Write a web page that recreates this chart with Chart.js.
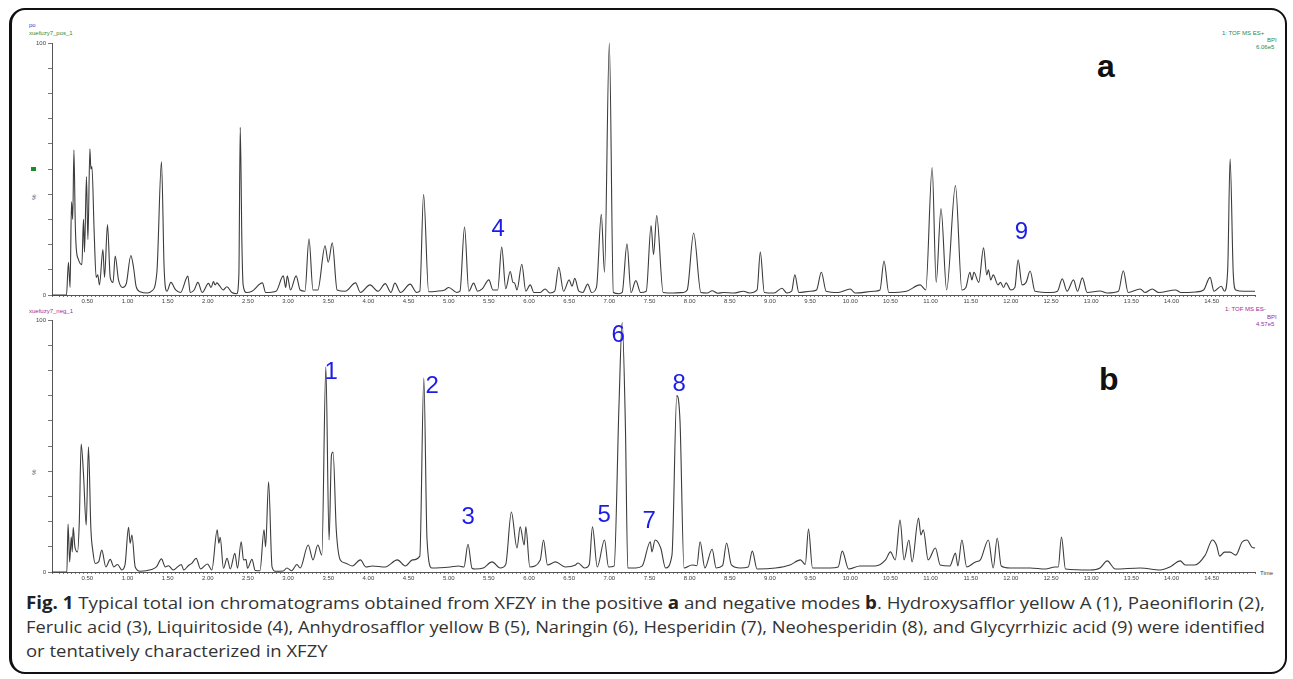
<!DOCTYPE html>
<html>
<head>
<meta charset="utf-8">
<script src="https://cdn.jsdelivr.net/npm/chart.js@4/dist/chart.umd.min.js"></script>
<style>
  body { margin: 0; width: 1293px; height: 679px; background: #fff; position: relative; overflow: hidden; font-family: "Liberation Sans", Arial, sans-serif; }
  .frame { position: absolute; left: 9px; top: 8px; width: 1273px; height: 662px; border: 2px solid #111; border-left-width: 3px; border-radius: 16px; }
  canvas { position: absolute; left: 0; }
  #chartPos { top: 0; }
  #chartNeg { top: 310px; }
  .t { position: absolute; font-size: 6px; line-height: 6px; white-space: nowrap; }
  .green { color: #2e8b3a; }
  .purple { color: #9a2a9a; }
  .letter { position: absolute; font-weight: bold; font-size: 32px; line-height: 32px; color: #111; }
  .caption { position: absolute; left: 26px; font-family: "Open Sans", sans-serif; font-size: 17px; line-height: 24px; color: #333; white-space: nowrap; transform-origin: left center; }
  .caption b { color: #222; }
</style>
</head>
<body>
<div class="frame"></div>

<!-- header texts, panel a -->
<div class="t" style="left:29px;top:22px;color:#3a3ad0">po</div>
<div class="t green" style="left:29px;top:30px">xuefuzy7_pos_1</div>
<div class="t green" style="left:1222px;top:30px">1: TOF MS ES+</div>
<div class="t green" style="left:1267px;top:37px">BPI</div>
<div class="t green" style="left:1256px;top:44px">6.06e5</div>
<div style="position:absolute;left:31px;top:167px;width:5px;height:4px;background:#1a8a2a"></div>
<div class="t" style="left:31px;top:194px;transform:rotate(-90deg);color:#444">%</div>

<!-- header texts, panel b -->
<div class="t purple" style="left:29px;top:308px">xuefuzy7_neg_1</div>
<div class="t purple" style="left:1225px;top:306px">1: TOF MS ES-</div>
<div class="t purple" style="left:1267px;top:314px">BPI</div>
<div class="t purple" style="left:1256px;top:321px">4.57e5</div>
<div class="t" style="left:31px;top:469px;transform:rotate(-90deg);color:#444">%</div>
<div class="t" style="left:1260px;top:570px;color:#444">Time</div>

<div class="letter" style="left:1097px;top:50px">a</div>
<div class="letter" style="left:1099px;top:363px">b</div>

<canvas id="chartPos" width="1293" height="310"></canvas>
<canvas id="chartNeg" width="1293" height="280"></canvas>

<div class="caption" id="cap1" style="top:591px"><b>Fig. 1</b> Typical total ion chromatograms obtained from XFZY in the positive <b>a</b> and negative modes <b>b</b>. Hydroxysafflor yellow A (1), Paeoniflorin (2),</div>
<div class="caption" id="cap2" style="top:615px">Ferulic acid (3), Liquiritoside (4), Anhydrosafflor yellow B (5), Naringin (6), Hesperidin (7), Neohesperidin (8), and Glycyrrhizic acid (9) were identified</div>
<div class="caption" id="cap3" style="top:639px">or tentatively characterized in XFZY</div>

<script>
// Positive mode (a) - retention time (min) and relative intensity (%)
const posTime = [0.06, 0.24, 0.265, 0.285, 0.303, 0.318, 0.333, 0.35, 0.361, 0.39, 0.432, 0.452, 0.465, 0.489, 0.507, 0.532, 0.544, 0.557, 0.585, 0.61, 0.63, 0.651, 0.694, 0.714, 0.751, 0.785, 0.82, 0.847, 0.888, 0.94, 0.984, 1.042, 1.075, 1.108, 1.158, 1.25, 1.30, 1.366, 1.423, 1.457, 1.491, 1.54, 1.6, 1.66, 1.752, 1.781, 1.83, 1.877, 1.93, 2.009, 2.04, 2.071, 2.09, 2.113, 2.15, 2.19, 2.238, 2.3, 2.36, 2.387, 2.404, 2.425, 2.44, 2.48, 2.55, 2.68, 2.72, 2.85, 2.94, 2.97, 2.99, 3.03, 3.10, 3.15, 3.21, 3.26, 3.31, 3.37, 3.46, 3.50, 3.55, 3.61, 3.71, 3.84, 3.90, 4.02, 4.12, 4.21, 4.28, 4.33, 4.40, 4.52, 4.60, 4.64, 4.687, 4.75, 4.85, 4.95, 5.0, 5.1, 5.14, 5.197, 5.25, 5.31, 5.36, 5.42, 5.50, 5.55, 5.61, 5.66, 5.71, 5.766, 5.80, 5.82, 5.85, 5.91, 5.96, 6.015, 6.06, 6.14, 6.20, 6.26, 6.32, 6.37, 6.43, 6.50, 6.535, 6.57, 6.62, 6.67, 6.73, 6.78, 6.84, 6.90, 6.94, 7.0, 7.05, 7.12, 7.16, 7.22, 7.27, 7.33, 7.39, 7.46, 7.52, 7.55, 7.59, 7.67, 7.8, 7.92, 7.97, 8.05, 8.14, 8.22, 8.28, 8.35, 8.42, 8.55, 8.67, 8.74, 8.84, 8.88, 8.93, 9.05, 9.15, 9.21, 9.27, 9.31, 9.36, 9.50, 9.58, 9.64, 9.70, 9.85, 10.0, 10.06, 10.3, 10.37, 10.42, 10.48, 10.7, 10.87, 10.94, 11.02, 11.07, 11.13, 11.2, 11.31, 11.39, 11.44, 11.49, 11.515, 11.54, 11.60, 11.66, 11.70, 11.72, 11.75, 11.78, 11.84, 11.87, 11.91, 11.94, 12.0, 12.05, 12.09, 12.14, 12.19, 12.24, 12.30, 12.5, 12.58, 12.64, 12.70, 12.78, 12.83, 12.89, 12.95, 13.11, 13.2, 13.34, 13.40, 13.46, 13.61, 13.67, 13.76, 13.84, 14.05, 14.12, 14.3, 14.40, 14.48, 14.53, 14.62, 14.66, 14.70, 14.73, 14.77, 14.80, 14.9, 15.04];
const posInt = [0, 0, 13, 3, 37, 30, 57.5, 28, 19, 14, 12, 30, 17, 47, 22, 58, 50, 51, 25, 7, 8, 4, 18, 7, 28, 7, 5, 15.5, 6, 3, 4.4, 15.7, 11, 3.3, 1.3, 0.8, 1.5, 9, 53, 10, 1.5, 5, 2, 1, 7.5, 1, 2, 5, 1, 4.6, 3, 5.3, 4, 4.8, 3.5, 2, 3.3, 1, 0.5, 8, 66.5, 20, 4, 1, 1.5, 4.8, 1, 1.5, 7.6, 3, 7.6, 2, 7.6, 2, 1.5, 22.3, 2, 2, 19.5, 13, 20.7, 2, 1.5, 4.8, 1, 4, 1.5, 4.5, 1, 4.7, 1, 4.3, 1, 1.5, 40, 1.3, 1.5, 2, 3, 1, 1.5, 27, 1.5, 4.7, 1.5, 2.5, 6, 2, 2, 19, 2.5, 9.3, 5, 4.8, 2, 12.2, 1.5, 4, 1, 1, 2.4, 0.8, 1.5, 11, 1.5, 6, 3.5, 6.6, 1.5, 1, 4.3, 1, 3, 32, 9, 100, 1, 0.5, 1, 20.3, 1, 5.7, 1, 1.5, 27.6, 16, 31.5, 1, 0.8, 1, 2, 24.6, 1, 0.8, 1.7, 0.7, 1, 0.8, 1.5, 0.8, 2, 17, 1, 0.8, 2.7, 0.8, 1.5, 8, 1, 1.5, 2, 9, 1.5, 1, 2.4, 0.8, 1.5, 2, 13.5, 1, 1.5, 4, 2, 50.6, 5, 34.3, 2, 43.4, 2, 3, 9, 6, 9, 5, 18.7, 8, 10, 6, 8, 4, 5, 3, 4.8, 2, 3, 14, 4, 5, 9.5, 1.5, 1, 1.5, 6.4, 1.5, 6, 1.5, 6.8, 1, 1.6, 0.8, 1.5, 9.6, 1, 2.4, 1, 2.4, 1, 2, 1, 1.2, 2, 7, 1.5, 3.5, 1.5, 10, 54, 8, 2, 1.5, 1.5];

// Negative mode (b)
const negTime = [0.06, 0.245, 0.26, 0.28, 0.30, 0.312, 0.324, 0.345, 0.378, 0.40, 0.423, 0.452, 0.486, 0.514, 0.544, 0.57, 0.598, 0.64, 0.68, 0.73, 0.785, 0.83, 0.876, 0.93, 0.97, 1.013, 1.033, 1.055, 1.096, 1.16, 1.30, 1.36, 1.423, 1.47, 1.51, 1.57, 1.67, 1.70, 1.76, 1.80, 1.855, 1.91, 1.996, 2.05, 2.117, 2.138, 2.154, 2.195, 2.24, 2.28, 2.337, 2.37, 2.416, 2.445, 2.475, 2.495, 2.55, 2.59, 2.65, 2.70, 2.72, 2.757, 2.80, 2.84, 2.94, 2.985, 3.045, 3.11, 3.15, 3.25, 3.31, 3.37, 3.42, 3.47, 3.51, 3.54, 3.56, 3.60, 3.65, 3.71, 3.80, 3.90, 3.97, 4.05, 4.21, 4.36, 4.46, 4.55, 4.64, 4.69, 4.73, 4.79, 5.02, 5.12, 5.19, 5.24, 5.29, 5.33, 5.43, 5.54, 5.64, 5.71, 5.78, 5.85, 5.89, 5.94, 5.96, 6.01, 6.14, 6.18, 6.23, 6.33, 6.45, 6.58, 6.61, 6.69, 6.75, 6.79, 6.85, 6.94, 6.99, 7.06, 7.12, 7.16, 7.20, 7.23, 7.33, 7.41, 7.51, 7.53, 7.57, 7.64, 7.70, 7.78, 7.84, 7.88, 7.93, 8.03, 8.09, 8.13, 8.19, 8.28, 8.33, 8.41, 8.46, 8.52, 8.63, 8.73, 8.78, 8.84, 9.07, 9.25, 9.38, 9.44, 9.48, 9.53, 9.75, 9.85, 9.90, 9.98, 10.12, 10.31, 10.44, 10.50, 10.56, 10.62, 10.67, 10.73, 10.77, 10.85, 10.88, 10.91, 10.97, 11.06, 11.12, 11.24, 11.31, 11.34, 11.39, 11.45, 11.56, 11.62, 11.72, 11.78, 11.83, 11.88, 11.99, 12.24, 12.43, 12.55, 12.59, 12.63, 12.68, 12.99, 13.11, 13.20, 13.30, 13.61, 13.86, 13.98, 14.11, 14.17, 14.29, 14.42, 14.51, 14.56, 14.60, 14.66, 14.73, 14.80, 14.88, 14.94, 15.00, 15.04];
const negInt = [0, 0, 19, 4, 14, 8, 17.7, 10, 8, 20, 50.8, 39, 18.6, 49.7, 17.3, 8, 3.4, 4, 8.7, 2, 5, 2, 3, 0.8, 3, 17.7, 11.4, 14.7, 2, 0.3, 1, 2, 5.2, 2, 2.5, 0.8, 3, 0.8, 2.6, 3.4, 5.4, 1.2, 3.2, 0.8, 16.7, 11.4, 13.8, 1.5, 5.4, 1.2, 7.4, 1.5, 12, 4.8, 5, 1.5, 5, 0.6, 0.5, 16.7, 10, 35.8, 2, 0.3, 0.4, 1.6, 0.5, 3, 1.6, 10.7, 4.8, 10.7, 6.7, 81.3, 12.7, 46.4, 47.6, 16.7, 4.8, 3.6, 2.4, 4.8, 2, 2.4, 2, 4.8, 2.4, 4.8, 6.3, 77, 12.7, 1.6, 2, 2.4, 2, 11, 1.5, 1.2, 1.6, 4, 1.6, 3, 23.8, 9.5, 17.9, 10.7, 17.9, 2, 4.8, 12.7, 2.8, 4, 2, 2.8, 3.6, 1.6, 3, 17.9, 2, 12.7, 2, 2.4, 66, 99, 58, 1.6, 1.6, 2.4, 12, 8, 12.7, 9.5, 1.6, 6.7, 70, 60, 1.6, 2.8, 2.5, 12, 1.6, 9, 1.6, 2.5, 11.5, 2.8, 1.6, 2, 8.3, 1.2, 1.6, 2.8, 4.8, 3, 17, 1.6, 1.6, 2, 8.3, 1.2, 2.4, 2.4, 4.8, 8, 4.8, 20.6, 4.8, 12.7, 4, 21.4, 14.7, 16.7, 4.8, 9.5, 2.8, 2.4, 7.5, 2.4, 12.7, 2, 4, 4.8, 12.7, 1.6, 13.5, 2.4, 1.6, 1.6, 1.2, 2, 2, 13.9, 1.2, 0.8, 1.6, 4.4, 1.2, 1.6, 0.8, 2, 4.4, 2.8, 2.8, 6.7, 12.7, 10.7, 6.3, 7.9, 7.9, 6.7, 11.9, 12.7, 9.9, 9.5];

// Identified compound labels (number, time, intensity where the label sits)
const posLabels = ["4", "9"];
const posLabelTime = [5.616, 12.13];
const posLabelInt = [25.9, 24.7];
const negLabels = ["1", "2", "3", "5", "6", "7", "8"];
const negLabelTime = [3.537, 4.795, 5.243, 6.936, 7.111, 7.497, 7.87];
const negLabelInt = [79.4, 73.8, 21.8, 22.6, 94.0, 20.2, 74.6];

const AXIS_MIN = 0.06;
const AXIS_MAX = 15.04;

// draws the blue compound numbers at data coordinates
const peakLabelPlugin = {
  id: "peakLabels",
  afterDraw(chart, args, opts) {
    const ctx = chart.ctx;
    const xs = chart.scales.x, ys = chart.scales.y;
    ctx.save();
    ctx.font = "24px 'Liberation Sans', Arial, sans-serif";
    ctx.fillStyle = "#1c1ce8";
    ctx.textAlign = "center";
    ctx.textBaseline = "middle";
    opts.texts.forEach((txt, i) => {
      ctx.fillText(txt, xs.getPixelForValue(opts.times[i]), ys.getPixelForValue(opts.ints[i]));
    });
    ctx.restore();
  }
};

function makeChart(id, times, ints, padTop, padBottom, labels) {
  const ctx = document.getElementById(id).getContext("2d");
  return new Chart(ctx, {
    type: "line",
    data: {
      datasets: [{
        data: times.map((t, i) => ({ x: t, y: ints[i] })),
        borderColor: "#3c3c3c",
        borderWidth: 1.1,
        pointRadius: 0,
        cubicInterpolationMode: "monotone",
        clip: false,
        fill: false
      }]
    },
    options: {
      responsive: false,
      animation: false,
      devicePixelRatio: 1,
      layout: { padding: { left: 0, right: 38, top: padTop, bottom: padBottom } },
      scales: {
        x: {
          type: "linear",
          min: AXIS_MIN,
          max: AXIS_MAX,
          afterFit: s => { s.height = 15; },
          border: { display: true, color: "#555", width: 1 },
          grid: { drawOnChartArea: false, drawTicks: true, tickLength: 2, color: "#777" },
          ticks: {
            stepSize: 0.05,
            autoSkip: false,
            maxRotation: 0,
            padding: 1,
            color: "#444",
            font: { size: 6, family: "'Liberation Sans', Arial" },
            callback: v => {
              const h = v * 2;
              return (v > 0.2 && Math.abs(h - Math.round(h)) < 1e-6) ? v.toFixed(2) : "";
            }
          }
        },
        y: {
          min: 0,
          max: 100,
          afterFit: s => { s.width = 52; },
          border: { display: true, color: "#555", width: 1 },
          grid: { drawOnChartArea: false, drawTicks: true, tickLength: 4, color: "#777" },
          ticks: {
            stepSize: 10,
            padding: 2,
            color: "#444",
            font: { size: 6, family: "'Liberation Sans', Arial" },
            callback: v => (v === 0 || v === 100) ? String(v) : ""
          }
        }
      },
      plugins: {
        legend: { display: false },
        tooltip: { enabled: false },
        peakLabels: labels
      }
    },
    plugins: [peakLabelPlugin]
  });
}

makeChart("chartPos", posTime, posInt, 43, 0, { texts: posLabels, times: posLabelTime, ints: posLabelInt });
makeChart("chartNeg", negTime, negInt, 10, 3, { texts: negLabels, times: negLabelTime, ints: negLabelInt });

// squeeze caption lines to the width they take in the figure
const capWidth = 1239;
const w1 = document.getElementById("cap1").offsetWidth;
const w2 = document.getElementById("cap2").offsetWidth;
const k1 = capWidth / w1, k2 = capWidth / w2;
document.getElementById("cap1").style.transform = `scaleX(${k1})`;
document.getElementById("cap2").style.transform = `scaleX(${k2})`;
document.getElementById("cap3").style.transform = `scaleX(${(k1 + k2) / 2})`;
</script>
</body>
</html>
